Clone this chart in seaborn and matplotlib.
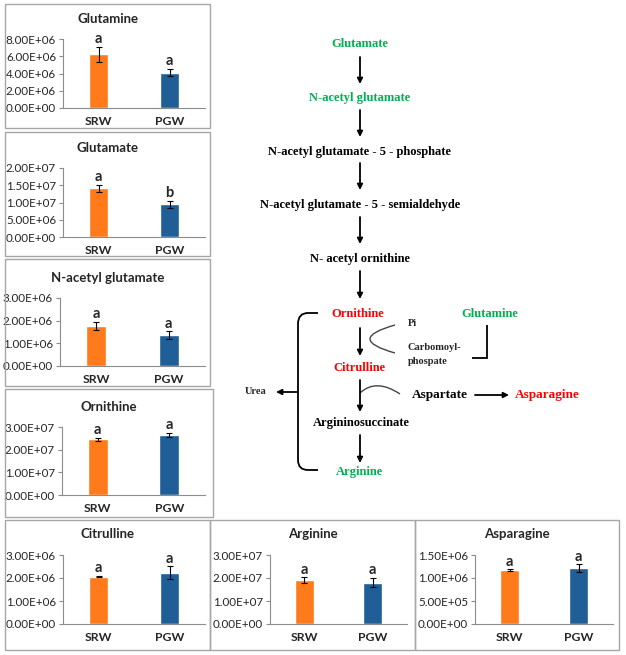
import matplotlib
matplotlib.use("Agg")
import matplotlib.pyplot as plt
import matplotlib.ticker as mtick
from matplotlib.patches import Rectangle, PathPatch
from matplotlib.path import Path
import seaborn as sns

W, H = 626, 655

metabolites = ["Glutamine", "Glutamate", "N-acetyl glutamate", "Ornithine",
               "Citrulline", "Arginine", "Asparagine"]
groups = ["SRW", "PGW"]
srw_mean = [6.25e6, 1.41e7, 1.76e6, 2.45e7, 2.06e6, 1.91e7, 1.17e6]
pgw_mean = [4.10e6, 9.5e6, 1.35e6, 2.65e7, 2.23e6, 1.80e7, 1.21e6]
srw_err = [0.88e6, 0.10e7, 0.18e6, 0.07e7, 0.03e6, 0.12e7, 0.02e6]
pgw_err = [0.42e6, 0.10e7, 0.18e6, 0.10e7, 0.28e6, 0.21e7, 0.085e6]
srw_letter = ["a", "a", "a", "a", "a", "a", "a"]
pgw_letter = ["a", "b", "a", "a", "a", "a", "a"]
y_max = [8e6, 2e7, 3e6, 3e7, 3e6, 3e7, 1.5e6]
y_step = [2e6, 5e6, 1e6, 1e7, 1e6, 1e7, 5e5]

# panel frames in pixels: (box, plot area, title y)
panels = [
    ((5, 4, 210, 128), (63, 39, 205, 108), 19),
    ((5, 132, 210, 256), (63, 168, 205, 237), 148),
    ((5, 259, 210, 386), (60, 298, 205, 366), 278),
    ((5, 389, 213, 517), (62, 427, 205, 495), 407),
    ((5, 520, 210, 650), (63, 555, 205, 624), 534),
    ((210, 520, 415, 650), (270, 555, 407, 624), 534),
    ((415, 520, 619, 650), (475, 555, 613, 624), 534),
]

ORANGE = "#FF7A1A"
BLUE = "#1F5E96"
GREEN = "#00B050"
RED = "#FF0000"

sns.set_theme(style="white")
plt.rcParams["font.family"] = ["Lato", "DejaVu Sans"]

fig = plt.figure(figsize=(W / 100, H / 100), dpi=100)
fig.patch.set_facecolor("white")

# --- pathway diagram (pixel coordinates) ---
axd = fig.add_axes([0, 0, 1, 1])
axd.set_xlim(0, W)
axd.set_ylim(H, 0)
axd.axis("off")

serif = ["Liberation Serif", "DejaVu Serif"]
nodes = [
    ("Glutamate", 360, 44, GREEN, 9),
    ("N-acetyl glutamate", 360, 98, GREEN, 9),
    ("N-acetyl glutamate - 5 - phosphate", 360, 152, "black", 9),
    ("N-acetyl glutamate - 5 - semialdehyde", 360, 205, "black", 9),
    ("N- acetyl ornithine", 360, 259, "black", 9),
    ("Ornithine", 358, 314, RED, 9),
    ("Citrulline", 359, 368, RED, 9),
    ("Argininosuccinate", 361, 423, "black", 9),
    ("Arginine", 360, 472, GREEN, 9),
    ("Glutamine", 490, 314, GREEN, 9),
    ("Aspartate", 440, 395, "black", 9.5),
    ("Asparagine", 547, 395, RED, 9.5),
]
for label, x, y, c, fs in nodes:
    axd.text(x, y, label, ha="center", va="center", color=c, fontsize=fs,
             fontweight="bold", family=serif)
for label, x, y in [("Pi", 408, 323), ("Carbomoyl-", 408, 347), ("phospate", 408, 361),
                    ("Urea", 245, 392)]:
    axd.text(x, y, label, ha="left", va="center", fontsize=7.5, fontweight="bold",
             family=serif)

arrows = [((360, 57), (360, 84)), ((360, 110), (360, 137)), ((360, 163), (360, 190)),
          ((360, 217), (360, 244)), ((360, 271), (360, 299)), ((360, 328), (360, 356)),
          ((360, 380), (360, 412)), ((360, 435), (360, 463)), ((475, 395), (509, 395)),
          ((298, 392), (276, 392))]
for (x0, y0), (x1, y1) in arrows:
    axd.annotate("", xy=(x1, y1), xytext=(x0, y0),
                 arrowprops=dict(arrowstyle="-|>", lw=1.3, color="black",
                                 mutation_scale=8, shrinkA=0, shrinkB=0))

def curve(verts, codes, lw=1.0, color="#444444"):
    axd.add_patch(PathPatch(Path(verts, codes), fill=False, lw=lw, edgecolor=color))

Q = Path.CURVE3
curve([(395, 325), (345, 339), (395, 353)], [Path.MOVETO, Q, Q])
curve([(360, 393), (376, 378), (400, 394)], [Path.MOVETO, Q, Q])
curve([(487, 325), (487, 358), (472, 358)], [Path.MOVETO, Path.LINETO, Path.LINETO],
      lw=1.3, color="black")
curve([(318, 313), (308, 313), (298, 313), (298, 324), (298, 460), (298, 470),
       (308, 470), (318, 470)],
      [Path.MOVETO, Path.LINETO, Q, Q, Path.LINETO, Q, Q, Path.LINETO],
      lw=1.3, color="black")

# --- bar panels ---
def sci(v, pos):
    return f"{v:.2E}"

for i, ((bx0, by0, bx1, by1), (ax0, ay0, ax1, ay1), ty) in enumerate(panels):
    fig.patches.append(Rectangle((bx0 / W, 1 - by1 / H), (bx1 - bx0) / W, (by1 - by0) / H,
                                 transform=fig.transFigure, fill=False,
                                 edgecolor="#A6A6A6", lw=1.0))
    fig.text((bx0 + bx1) / 2 / W, 1 - ty / H, metabolites[i], ha="center", va="center",
             fontsize=9.5, fontweight="bold")
    ax = fig.add_axes([ax0 / W, 1 - ay1 / H, (ax1 - ax0) / W, (ay1 - ay0) / H])
    ax.patch.set_alpha(0)
    vals = [srw_mean[i], pgw_mean[i]]
    errs = [srw_err[i], pgw_err[i]]
    sns.barplot(x=groups, y=vals, hue=groups, palette=[ORANGE, BLUE], ax=ax,
                width=0.28, legend=False, saturation=1)
    ax.errorbar([0, 1], vals, yerr=errs, fmt="none", ecolor="black", elinewidth=0.8,
                capsize=2, capthick=0.8)
    for j, letter in enumerate([srw_letter[i], pgw_letter[i]]):
        ax.annotate(letter, (j, vals[j] + errs[j]), xytext=(0, 0.5),
                    textcoords="offset points", ha="center", va="bottom",
                    fontsize=10.5, fontweight="bold")
    ax.set_xlim(-0.5, 1.5)
    ax.set_ylim(0, y_max[i])
    ax.yaxis.set_major_locator(mtick.MultipleLocator(y_step[i]))
    ax.yaxis.set_major_formatter(mtick.FuncFormatter(sci))
    for s in ["top", "right"]:
        ax.spines[s].set_visible(False)
    for s in ["left", "bottom"]:
        ax.spines[s].set_color("#8C8C8C")
        ax.spines[s].set_linewidth(0.8)
    ax.tick_params(axis="y", length=3, width=0.8, color="#8C8C8C", labelsize=8.4, pad=2,
                   left=True)
    ax.tick_params(axis="x", length=0, pad=6, labelsize=8.8)
    for t in ax.get_xticklabels():
        t.set_fontweight("bold")
    ax.set_xlabel("")
    ax.set_ylabel("")

fig.savefig("out.png", dpi=100, facecolor="white")
